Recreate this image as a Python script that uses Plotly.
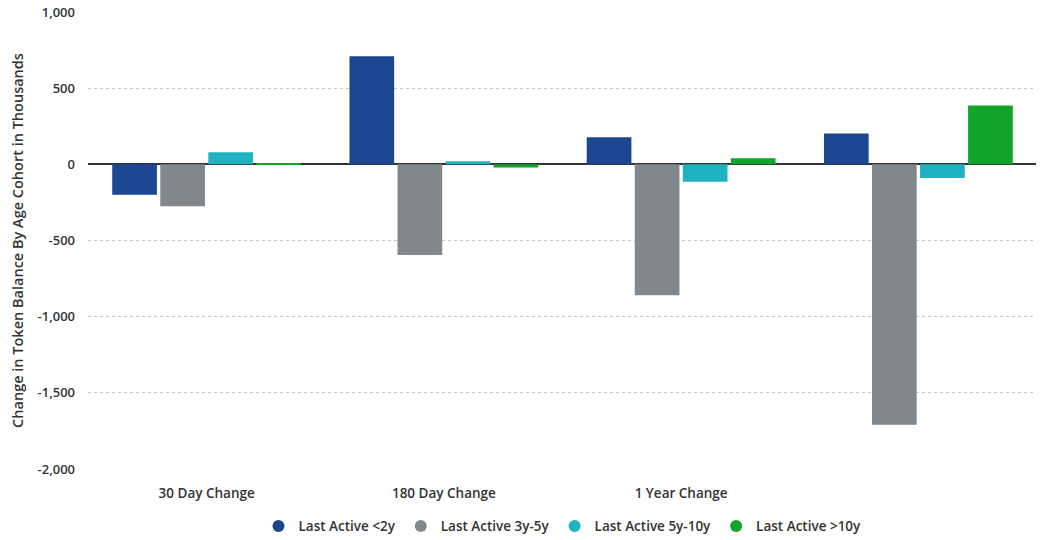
import plotly.graph_objects as go

categories = ["30 Day Change", "180 Day Change", "1 Year Change", "2 Year Change"]
tick_labels = ["30 Day Change", "180 Day Change", "1 Year Change", ""]
series_names = ["Last Active <2y", "Last Active 3y-5y", "Last Active 5y-10y", "Last Active >10y"]
lt2y = [-200, 710, 177, 203]
y3_5 = [-275, -595, -860, -1710]
y5_10 = [80, 20, -115, -90]
gt10y = [8, -20, 40, 387]
colors = ["#1c4690", "#80878d", "#20b2c0", "#10a52a"]

fig = go.Figure()
for name, vals, c in zip(series_names, [lt2y, y3_5, y5_10, gt10y], colors):
    fig.add_trace(go.Bar(x=categories, y=vals, name=name, showlegend=False,
                         marker=dict(color=c, line=dict(width=0))))
# legend entries drawn as circles
for name, c in zip(series_names, colors):
    fig.add_trace(go.Scatter(x=[None], y=[None], mode="markers", name=name,
                             marker=dict(symbol="circle", size=13, color=c)))

ff = "Open Sans"
txt = "#333333"
fig.update_layout(
    barmode="group",
    bargap=0.19,
    bargroupgap=0.07,
    width=1044, height=540,
    margin=dict(l=80, r=15, t=4, b=79),
    paper_bgcolor="white",
    plot_bgcolor="white",
    font=dict(family=ff, color=txt),
    showlegend=True,
    legend=dict(orientation="h", x=0.5, xanchor="center", y=-0.125, yanchor="middle",
                font=dict(size=13.5, color=txt, family=ff, weight=600),
                itemsizing="constant", traceorder="normal"),
    xaxis=dict(tickvals=categories, ticktext=tick_labels, showgrid=False, showline=False,
               ticks="", tickfont=dict(size=13.5, color=txt, family=ff, weight=600),
               ticklabelstandoff=14, automargin=False),
    yaxis=dict(range=[-2000, 1000], tickvals=[-2000, -1500, -1000, -500, 0, 500, 1000],
               ticktext=["-2,000", "-1,500", "-1,000", "-500", "0", "500", "1,000"],
               showgrid=True, gridcolor="#c4c4c4", griddash="dot", gridwidth=1,
               zeroline=True, zerolinecolor="#333333", zerolinewidth=1.5,
               tickfont=dict(size=13, color=txt, family=ff, weight=600), ticklabelstandoff=12,
               ticklabeloverflow="allow", automargin=False,
               title=dict(text="Change in Token Balance By Age Cohort in Thousands",
                          font=dict(size=14.5, color=txt, family=ff, weight=600))),
)
fig.write_html("out.html")
